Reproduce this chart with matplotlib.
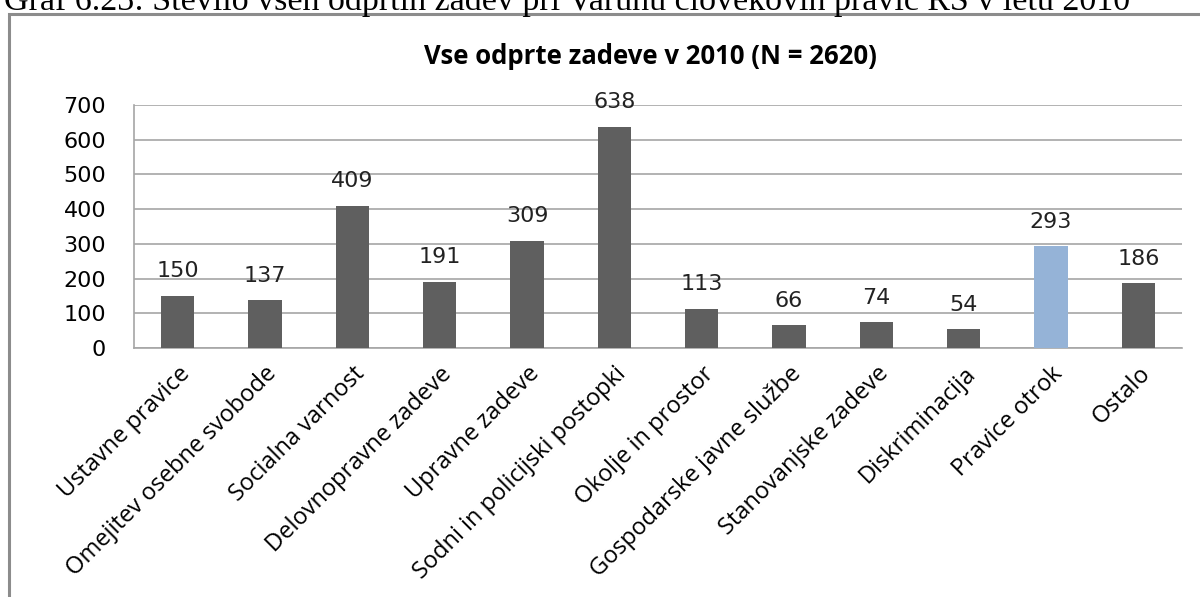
import matplotlib.pyplot as plt
from matplotlib.patches import Rectangle

# podatki
categories = ["Ustavne pravice", "Omejitev osebne svobode", "Socialna varnost",
              "Delovnopravne zadeve", "Upravne zadeve", "Sodni in policijski postopki",
              "Okolje in prostor", "Gospodarske javne službe", "Stanovanjske zadeve",
              "Diskriminacija", "Pravice otrok", "Ostalo"]
values = [150, 137, 409, 191, 309, 638, 113, 66, 74, 54, 293, 186]
highlight = "Pravice otrok"
y_ticks = [0, 100, 200, 300, 400, 500, 600, 700]

W, H = 1200, 597
fig = plt.figure(figsize=(W / 100, H / 100), dpi=100)

# okvir grafa
fig.patches.append(Rectangle((9 / W, -0.1), 1.1, 1 - 14 / H + 0.1, transform=fig.transFigure,
                             fill=False, edgecolor="#8c8c8c", linewidth=2.2))

# napis nad grafom (odrezan na vrhu)
fig.text(4 / W, 1 - 10 / H, "Graf 6.23: Število vseh odprtih zadev pri Varuhu človekovih pravic RS v letu 2010",
         family="Liberation Serif", fontsize=24.5, ha="left", va="baseline")

ax = fig.add_axes([134 / W, 1 - 348 / H, (1182 - 134) / W, (348 - 105) / H])
x = range(len(categories))
colors = ["#95b3d7" if c == highlight else "#5f5f5f" for c in categories]
ax.bar(x, values, width=0.38, color=colors, zorder=3)

for xi, v in zip(x, values):
    ax.text(xi, v + 42, str(v), ha="center", va="bottom", fontsize=16, color="#222222")

ax.set_ylim(0, 700)
ax.set_xlim(-0.5, len(categories) - 0.5)
ax.set_yticks(y_ticks)
ax.set_yticklabels([str(t) for t in y_ticks], fontsize=16)
ax.yaxis.grid(True, color="#a6a6a6", linewidth=1.2, zorder=0)
ax.tick_params(axis="y", length=0, pad=20)
ax.tick_params(axis="x", length=0, pad=10)
ax.set_xticks(list(x))
ax.set_xticklabels(categories, rotation=45, ha="right", rotation_mode="anchor",
                   fontsize=17, family="Open Sans")
for s in ["top", "right"]:
    ax.spines[s].set_visible(False)
for s in ["left", "bottom"]:
    ax.spines[s].set_color("#a6a6a6")
    ax.spines[s].set_linewidth(1.2)

fig.text(650 / W, 1 - 64 / H, "Vse odprte zadeve v 2010 (N = 2620)", ha="center", va="baseline",
         fontsize=18.5, fontweight="bold", family="Open Sans")

fig.savefig("out.png", dpi=100)
